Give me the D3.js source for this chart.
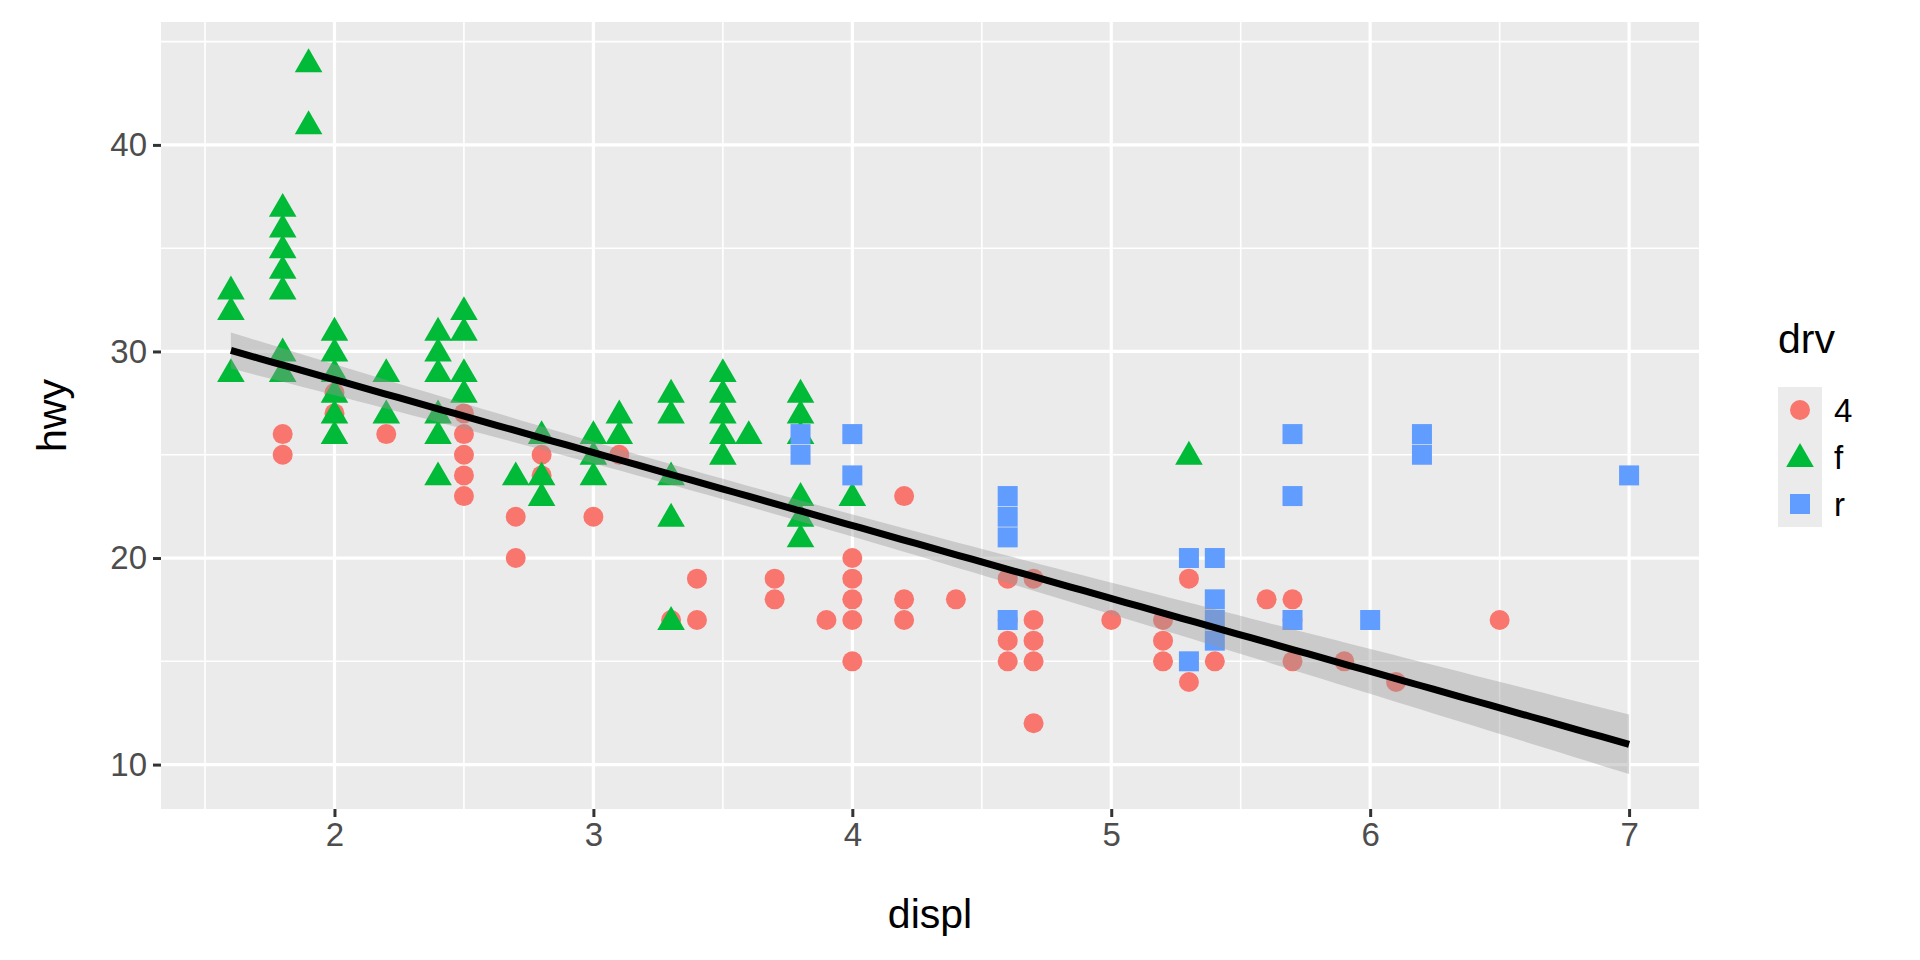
<!DOCTYPE html>
<html><head><meta charset="utf-8">
<script src="https://cdn.jsdelivr.net/npm/d3@7"></script>
<style>body{margin:0;background:#fff}</style>
</head><body>
<svg id="chart" width="1920" height="960"></svg>
<script>
// unique points, per drive type
const front = [
  [1.6,33],[1.6,32],[1.6,29],
  [1.8,37],[1.8,36],[1.8,35],[1.8,34],[1.8,33],[1.8,30],[1.8,29],
  [1.9,44],[1.9,41],
  [2.0,31],[2.0,30],[2.0,29],[2.0,28],[2.0,27],[2.0,26],
  [2.2,29],[2.2,27],
  [2.4,31],[2.4,30],[2.4,29],[2.4,27],[2.4,26],[2.4,24],
  [2.5,32],[2.5,31],[2.5,29],[2.5,28],
  [2.7,24],[2.8,26],[2.8,24],[2.8,23],
  [3.0,26],[3.0,25],[3.0,24],[3.1,27],[3.1,26],
  [3.3,28],[3.3,27],[3.3,24],[3.3,22],[3.3,17],
  [3.5,29],[3.5,28],[3.5,27],[3.5,26],[3.5,25],[3.6,26],
  [3.8,28],[3.8,27],[3.8,26],[3.8,23],[3.8,22],[3.8,21],
  [4.0,23],[5.3,25]
];
const fourWd = [
  [1.8,26],[1.8,25],[2.0,28],[2.0,27],[2.2,26],
  [2.5,27],[2.5,26],[2.5,25],[2.5,24],[2.5,23],
  [2.7,22],[2.7,20],[2.8,25],[2.8,24],[3.0,22],[3.1,25],
  [3.3,17],[3.4,19],[3.4,17],[3.7,19],[3.7,18],[3.9,17],
  [4.0,20],[4.0,19],[4.0,18],[4.0,17],[4.0,15],
  [4.2,23],[4.2,18],[4.2,17],[4.4,18],
  [4.6,19],[4.6,17],[4.6,16],[4.6,15],
  [4.7,19],[4.7,17],[4.7,16],[4.7,15],[4.7,12],
  [5.0,17],[5.2,17],[5.2,16],[5.2,15],[5.3,19],[5.3,14],[5.4,15],
  [5.6,18],[5.7,18],[5.7,17],[5.7,15],[5.9,15],[6.1,14],[6.5,17]
];
const rear = [
  [3.8,26],[3.8,25],[4.0,26],[4.0,24],
  [4.6,23],[4.6,22],[4.6,21],[4.6,17],
  [5.3,20],[5.3,15],[5.4,20],[5.4,18],[5.4,17],[5.4,16],
  [5.7,26],[5.7,23],[5.7,17],[6.0,17],[6.2,26],[6.2,25],[7.0,24]
];
const drvLevels = ["4", "f", "r"];
const drvColors = ["#F8766D", "#00BA38", "#619CFF"];
const xTicks = [2, 3, 4, 5, 6, 7];
const yTicks = [10, 20, 30, 40];

// linear fit hwy ~ displ (n = 234)
const fit = { a: 35.698, b: -3.531, sigma: 3.836, n: 234, xbar: 3.4717, sxx: 388.9, t: 1.970 };

const width = 1920, height = 960;
const margin = { top: 22, right: 221, bottom: 151, left: 161 };
const pw = width - margin.left - margin.right;
const ph = height - margin.top - margin.bottom;
const font = "Liberation Sans, Arial, sans-serif";

const x = d3.scaleLinear().domain([1.33, 7.27]).range([0, pw]);
const y = d3.scaleLinear().domain([7.85, 45.95]).range([ph, 0]);

const svg = d3.select("#chart");
const g = svg.append("g").attr("transform", `translate(${margin.left},${margin.top})`);

g.append("rect").attr("width", pw).attr("height", ph).attr("fill", "#EBEBEB");

// grid
const xMinor = d3.range(1.5, 7.3, 1), yMinor = [15, 25, 35, 45];
g.selectAll(".xm").data(xMinor).join("line")
  .attr("x1", d => x(d)).attr("x2", d => x(d)).attr("y1", 0).attr("y2", ph)
  .attr("stroke", "#fff").attr("stroke-width", 1.6);
g.selectAll(".ym").data(yMinor).join("line")
  .attr("y1", d => y(d)).attr("y2", d => y(d)).attr("x1", 0).attr("x2", pw)
  .attr("stroke", "#fff").attr("stroke-width", 1.6);
g.selectAll(".xM").data(xTicks).join("line")
  .attr("x1", d => x(d)).attr("x2", d => x(d)).attr("y1", 0).attr("y2", ph)
  .attr("stroke", "#fff").attr("stroke-width", 3.2);
g.selectAll(".yM").data(yTicks).join("line")
  .attr("y1", d => y(d)).attr("y2", d => y(d)).attr("x1", 0).attr("x2", pw)
  .attr("stroke", "#fff").attr("stroke-width", 3.2);

// points
const shapes = [d3.symbolCircle, d3.symbolTriangle, d3.symbolSquare];
const areas = [Math.PI * 10 * 10, 330, 400];
[fourWd, front, rear].forEach((pts, i) => {
  const sym = d3.symbol().type(shapes[i]).size(areas[i]);
  g.append("g").selectAll("path").data(pts).join("path")
    .attr("d", sym)
    .attr("transform", d => `translate(${x(d[0])},${y(d[1]) + (i === 1 ? 2 : 0)})`)
    .attr("fill", drvColors[i]);
});

// smooth
const xs = d3.range(1.6, 7.0001, 0.054);
const band = xs.map(v => {
  const m = fit.a + fit.b * v;
  const se = fit.sigma * Math.sqrt(1 / fit.n + (v - fit.xbar) ** 2 / fit.sxx);
  return { v, m, lo: m - fit.t * se, hi: m + fit.t * se };
});
g.append("path").datum(band)
  .attr("d", d3.area().x(d => x(d.v)).y0(d => y(d.lo)).y1(d => y(d.hi)))
  .attr("fill", "#999999").attr("fill-opacity", 0.4);
g.append("path").datum(band)
  .attr("d", d3.line().x(d => x(d.v)).y(d => y(d.m)))
  .attr("fill", "none").attr("stroke", "#000").attr("stroke-width", 7);

// axes
const xAxis = g.append("g").attr("transform", `translate(0,${ph})`)
  .call(d3.axisBottom(x).tickValues(xTicks).tickFormat(d3.format("d")).tickSize(8).tickPadding(6));
const yAxis = g.append("g")
  .call(d3.axisLeft(y).tickValues(yTicks).tickFormat(d3.format("d")).tickSize(8).tickPadding(6));
[xAxis, yAxis].forEach(a => {
  a.select(".domain").remove();
  a.selectAll("line").attr("stroke", "#333").attr("stroke-width", 3);
  a.selectAll("text").attr("fill", "#4D4D4D").attr("font-size", 33).attr("font-family", font);
});

svg.append("text").attr("x", margin.left + pw / 2).attr("y", 928)
  .attr("text-anchor", "middle").attr("font-size", 41)
  .attr("font-family", font).text("displ");
svg.append("text").attr("transform", `translate(66,${margin.top + ph / 2}) rotate(-90)`)
  .attr("text-anchor", "middle").attr("font-size", 41)
  .attr("font-family", font).text("hwy");

// legend
const lg = svg.append("g").attr("transform", "translate(1778,0)");
lg.append("text").attr("x", 0).attr("y", 353).attr("font-size", 41)
  .attr("font-family", font).text("drv");
lg.append("rect").attr("x", 0).attr("y", 387).attr("width", 44).attr("height", 140).attr("fill", "#EBEBEB");
const keyY = [410, 457, 504];
drvLevels.forEach((lab, i) => {
  lg.append("path").attr("d", d3.symbol().type(shapes[i]).size(areas[i])())
    .attr("transform", `translate(22,${keyY[i] + (i === 1 ? 2 : 0)})`).attr("fill", drvColors[i]);
  lg.append("text").attr("x", 56).attr("y", keyY[i] + 12).attr("font-size", 33)
    .attr("font-family", font).text(lab);
});
</script>
</body></html>
